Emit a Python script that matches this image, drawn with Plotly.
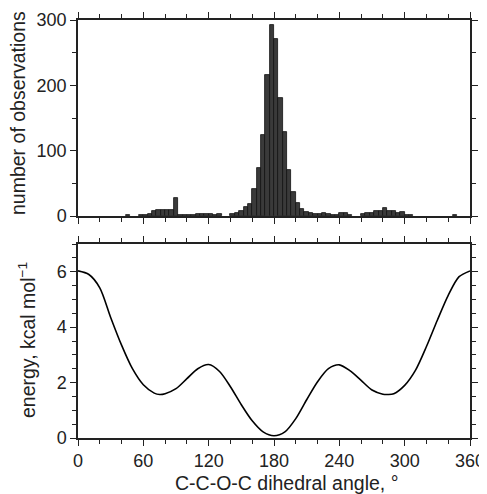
import plotly.graph_objects as go

# ---- histogram data (4-degree bins, left edges) ----
bin_width = 4
bin_starts = list(range(0, 360, 4))
counts = [
    0, 0, 0, 0, 0, 0, 0, 0, 0, 0,      # 0-36
    0, 1, 0, 0, 1, 2, 3, 7, 9, 9,      # 40-76
    9, 9, 27, 2, 1, 1, 2, 3, 3, 3,     # 80-116
    3, 2, 3, 0, 0, 3, 5, 8, 14, 19,    # 120-156
    42, 73, 124, 216, 292, 271, 180, 129, 70, 37,  # 160-196
    20, 10, 6, 4, 3, 3, 5, 3, 1, 2,    # 200-236
    4, 5, 2, 0, 0, 3, 4, 4, 7, 8,      # 240-276
    13, 8, 8, 4, 6, 1, 1, 0, 0, 0,     # 280-316
    0, 0, 0, 0, 0, 0, 1, 0, 0, 0,      # 320-356
]

# ---- energy profile ----
angles = [0, 10, 20, 30, 40, 50, 60, 70, 75, 80, 90, 100, 110, 120, 130, 140,
          150, 160, 170, 180, 190, 200, 210, 220, 230, 240, 250, 260, 270,
          280, 285, 290, 300, 310, 320, 330, 340, 350, 360]
energy = [6.03, 5.9, 5.42, 4.35, 3.35, 2.5, 1.92, 1.62, 1.57, 1.6, 1.78, 2.14,
          2.5, 2.65, 2.4, 1.85, 1.2, 0.62, 0.22, 0.08, 0.22, 0.7, 1.38, 2.03,
          2.5, 2.64, 2.42, 2.08, 1.73, 1.58, 1.57, 1.6, 1.9, 2.45, 3.3, 4.25,
          5.15, 5.82, 6.03]

x_tick_vals = [0, 60, 120, 180, 240, 300, 360]
x_tick_text = ["0", "60", "120", "180", "240", "300", "360"]

# only non-empty bins are drawn as bars
bar_x = [s + bin_width / 2 for s, c in zip(bin_starts, counts) if c > 0]
bar_y = [c for c in counts if c > 0]

FONT = "Liberation Sans, Arial, Helvetica, sans-serif"
AX = "#222222"

fig = go.Figure()
fig.add_trace(go.Bar(
    x=bar_x, y=bar_y, width=bin_width,
    marker=dict(color="#3a3a3a", line=dict(color="#111111", width=0.8)),
    xaxis="x", yaxis="y", showlegend=False,
))
fig.add_trace(go.Scatter(
    x=angles, y=energy, mode="lines",
    line=dict(color="black", width=1.6, shape="spline", smoothing=0.8),
    xaxis="x2", yaxis="y2", showlegend=False,
))

common = dict(
    showline=True, linecolor=AX, linewidth=1.5, mirror="ticks",
    ticks="outside", ticklen=6, tickwidth=1.3, tickcolor=AX,
    showgrid=False, zeroline=False, automargin=False,
    tickfont=dict(family=FONT, size=18, color="#222"),
)
minor_x = dict(ticks="outside", ticklen=4, tickwidth=1, tickcolor=AX, dtick=20, tick0=0)
title_font = dict(family=FONT, size=19.5, color="#222")

# the page places the figure 8 px in from the top-left corner
OFF = 8
W, H = 487, 494
L, R, T, B = 78 - OFF, 17 + OFF, 20 - OFF, 56 + OFF
plot_w = W - L - R
plot_h = H - T - B


def py(screen_y):
    """screen pixel row -> paper y"""
    return (H - B - (screen_y - OFF)) / plot_h


def px(screen_x):
    """screen pixel column -> paper x"""
    return (screen_x - OFF - L) / plot_w


fig.update_layout(
    width=W, height=H,
    margin=dict(l=L, r=R, t=T, b=B, autoexpand=False),
    paper_bgcolor="white", plot_bgcolor="white",
    bargap=0,
    font=dict(family=FONT, color="#222"),
    xaxis=dict(domain=[0, 1], anchor="y", range=[0, 360],
               tickvals=x_tick_vals, showticklabels=False,
               minor=minor_x, **common),
    yaxis=dict(domain=[py(216), 1], anchor="x", range=[0, 300], dtick=100,
               minor=dict(ticks="outside", ticklen=4, tickwidth=1, tickcolor=AX, dtick=50, tick0=0),
               **common),
    xaxis2=dict(domain=[0, 1], anchor="y2", range=[0, 360],
                tickvals=x_tick_vals, ticktext=x_tick_text,
                minor=minor_x, **common),
    yaxis2=dict(domain=[0, py(244)], anchor="x2", range=[0, 7], dtick=2,
                minor=dict(ticks="outside", ticklen=4, tickwidth=1, tickcolor=AX, dtick=0.5, tick0=0),
                **common),
    annotations=[
        dict(text="number of observations", textangle=-90, showarrow=False,
             xref="paper", yref="paper", x=px(18), y=py(113), xanchor="center", yanchor="middle",
             font=title_font),
        dict(text="energy, kcal mol<sup>−1</sup>", textangle=-90, showarrow=False,
             xref="paper", yref="paper", x=px(27), y=py(340), xanchor="center", yanchor="middle",
             font=title_font),
        dict(text="C-C-O-C dihedral angle, °", showarrow=False,
             xref="paper", yref="paper", x=px(286), y=py(483),
             xanchor="center", yanchor="middle", font=title_font),
    ],
)

fig.write_html("out.html")
